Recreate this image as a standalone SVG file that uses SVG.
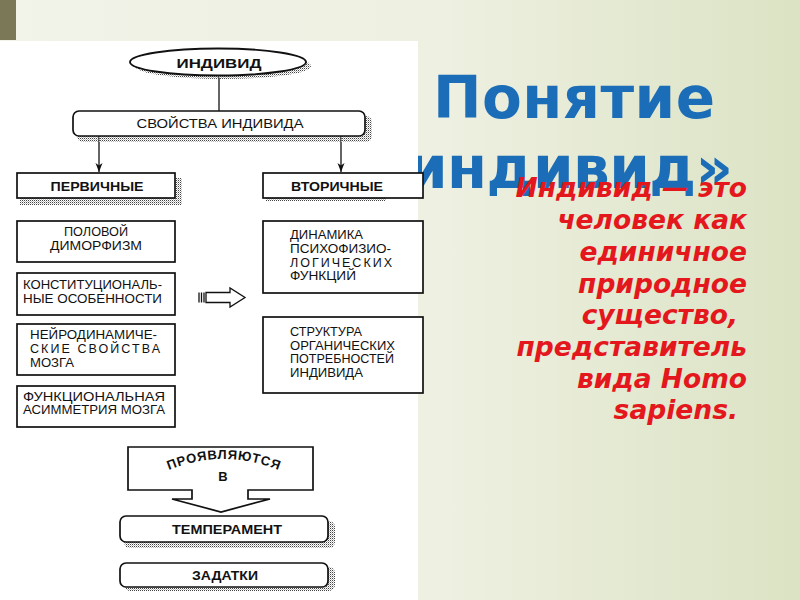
<svg xmlns="http://www.w3.org/2000/svg" width="800" height="600" viewBox="0 0 800 600">
<defs>
  <linearGradient id="bg" x1="0" y1="0" x2="1" y2="0">
    <stop offset="0" stop-color="#f2f3e9"/>
    <stop offset="0.55" stop-color="#eef0e1"/>
    <stop offset="1" stop-color="#dbe3c4"/>
  </linearGradient>
  <pattern id="dots" width="2" height="2" patternUnits="userSpaceOnUse">
    <rect width="1" height="1" fill="#444"/>
    <rect x="1" y="1" width="1" height="1" fill="#bbb"/>
  </pattern>
  <marker id="ah" markerWidth="10" markerHeight="10" refX="4" refY="9" orient="0" markerUnits="userSpaceOnUse">
    <path d="M0.5,0 L4,9 L7.5,0 L4,2.5 Z" fill="#111"/>
  </marker>
  <style>
    .box{fill:#fff;stroke:#111;stroke-width:1.7}
    .sh{fill:url(#dots)}
    .t{font-family:"Liberation Sans",Arial,sans-serif;font-size:12.5px;fill:#111}
    .b{font-family:"Liberation Sans",Arial,sans-serif;font-size:13px;font-weight:bold;fill:#111}
    .ln{stroke:#111;stroke-width:1.3;fill:none}
    .red{font-family:"DejaVu Sans",Verdana,sans-serif;font-weight:bold;font-style:italic;font-size:26.5px;fill:#e3171c;text-anchor:end}
    .blue{font-family:"DejaVu Sans",Verdana,sans-serif;font-weight:bold;font-size:58px;fill:#1b6db8}
  </style>
</defs>

<rect width="800" height="600" fill="url(#bg)"/>
<rect x="0" y="0" width="16" height="40" fill="#7b7858"/>

<g id="title">
  <text class="blue" x="433" y="118" textLength="282">Понятие</text>
  <text class="blue" x="733" y="188" text-anchor="end" textLength="326">индивид»</text>
</g>

<rect x="0" y="41" width="418" height="559" fill="#ffffff"/>

<g id="connectors">
  <line class="ln" x1="219" y1="77" x2="219" y2="111"/>
  <line class="ln" x1="99" y1="136" x2="99" y2="172" marker-end="url(#ah)"/>
  <line class="ln" x1="341" y1="136" x2="341" y2="172" marker-end="url(#ah)"/>
  <g id="blockArrow">
    <path d="M206,292.5 H230 V288 L245,297.5 L230,307 V302.5 H206 Z" fill="#fff" stroke="#111" stroke-width="1.3"/>
    <path d="M199,292.5 V302.5 M201.5,292.5 V302.5 M204,292.5 V302.5" stroke="#111" stroke-width="1.3"/>
  </g>
  <g id="downArrow">
    <path d="M128,447 H313 V490 H248 V499 H270 L221,512 L172,499 H192 V490 H128 Z" fill="#fff" stroke="#111" stroke-width="1.7"/>
    <path id="arc" d="M156,476 Q223,442 292,476" fill="none"/>
    <text class="b" font-size="12" letter-spacing="0.8"><textPath href="#arc" startOffset="50%" text-anchor="middle">ПРОЯВЛЯЮТСЯ</textPath></text>
    <text class="b" x="223" y="481" text-anchor="middle" font-size="12">В</text>
  </g>
</g>

<g id="n-individ">
  <ellipse class="sh" cx="223" cy="66" rx="88" ry="13"/>
  <ellipse cx="218" cy="62" rx="88" ry="13.5" fill="#fff" stroke="#111" stroke-width="1.9"/>
  <text class="b" x="219" y="67.5" text-anchor="middle" font-size="14.5" textLength="85" lengthAdjust="spacingAndGlyphs">ИНДИВИД</text>
</g>

<g id="n-svoistva">
  <rect class="sh" x="77" y="116" width="295" height="26" rx="6"/>
  <rect class="box" x="73" y="111" width="292" height="25" rx="6"/>
  <text class="t" x="220" y="128" text-anchor="middle" font-size="13.5" textLength="167" lengthAdjust="spacingAndGlyphs">СВОЙСТВА ИНДИВИДА</text>
</g>

<g id="n-pervichnye">
  <rect class="sh" x="20" y="178" width="162" height="27"/>
  <rect class="box" x="17" y="173" width="158" height="25"/>
  <text class="b" x="97" y="191" text-anchor="middle" textLength="93" lengthAdjust="spacingAndGlyphs">ПЕРВИЧНЫЕ</text>
</g>

<g id="n-vtorichnye">
  <rect class="sh" x="266" y="196" width="120" height="5"/>
  <rect class="box" x="263" y="173" width="160" height="25"/>
  <text class="b" x="337" y="191" text-anchor="middle" textLength="92" lengthAdjust="spacingAndGlyphs">ВТОРИЧНЫЕ</text>
</g>

<g id="n-polovoi">
  <rect class="box" x="17" y="221" width="158" height="41"/>
  <text class="t" x="96" y="236" text-anchor="middle" textLength="64" lengthAdjust="spacingAndGlyphs">ПОЛОВОЙ</text>
  <text class="t" x="96" y="250" text-anchor="middle" textLength="92" lengthAdjust="spacingAndGlyphs">ДИМОРФИЗМ</text>
</g>

<g id="n-konstit">
  <rect class="box" x="17" y="273" width="158" height="42"/>
  <text class="t" x="23" y="289" textLength="139" lengthAdjust="spacingAndGlyphs">КОНСТИТУЦИОНАЛЬ-</text>
  <text class="t" x="23" y="303" textLength="139" lengthAdjust="spacingAndGlyphs">НЫЕ ОСОБЕННОСТИ</text>
</g>

<g id="n-neirodin">
  <rect class="box" x="17" y="324" width="158" height="51"/>
  <text class="t" x="30" y="339" textLength="127" lengthAdjust="spacingAndGlyphs">НЕЙРОДИНАМИЧЕ-</text>
  <text class="t" x="30" y="353" textLength="130">СКИЕ  СВОЙСТВА</text>
  <text class="t" x="30" y="367" textLength="44" lengthAdjust="spacingAndGlyphs">МОЗГА</text>
</g>

<g id="n-funkc">
  <rect class="box" x="17" y="386" width="158" height="41"/>
  <text class="t" x="23" y="401" textLength="142" lengthAdjust="spacingAndGlyphs">ФУНКЦИОНАЛЬНАЯ</text>
  <text class="t" x="23" y="414" textLength="142" lengthAdjust="spacingAndGlyphs">АСИММЕТРИЯ МОЗГА</text>
</g>

<g id="n-dinamika">
  <rect class="box" x="263" y="221" width="160" height="72"/>
  <text class="t" x="290" y="239" textLength="73" lengthAdjust="spacingAndGlyphs">ДИНАМИКА</text>
  <text class="t" x="290" y="253" textLength="101" lengthAdjust="spacingAndGlyphs">ПСИХОФИЗИО-</text>
  <text class="t" x="290" y="267" textLength="102">ЛОГИЧЕСКИХ</text>
  <text class="t" x="290" y="280" textLength="66" lengthAdjust="spacingAndGlyphs">ФУНКЦИЙ</text>
</g>

<g id="n-struktura">
  <rect class="box" x="263" y="317" width="160" height="76"/>
  <text class="t" x="290" y="336" textLength="72" lengthAdjust="spacingAndGlyphs">СТРУКТУРА</text>
  <text class="t" x="290" y="350" textLength="105" lengthAdjust="spacingAndGlyphs">ОРГАНИЧЕСКИХ</text>
  <text class="t" x="290" y="363" textLength="104" lengthAdjust="spacingAndGlyphs">ПОТРЕБНОСТЕЙ</text>
  <text class="t" x="290" y="377" textLength="73" lengthAdjust="spacingAndGlyphs">ИНДИВИДА</text>
</g>

<g id="n-temperament">
  <rect class="sh" x="124" y="521" width="211" height="27" rx="6"/>
  <rect class="box" x="120" y="516" width="208" height="26" rx="6"/>
  <text class="b" x="227" y="533.5" text-anchor="middle" font-size="13.5" textLength="110" lengthAdjust="spacingAndGlyphs">ТЕМПЕРАМЕНТ</text>
</g>

<g id="n-zadatki">
  <rect class="sh" x="124" y="567" width="211" height="24" rx="6"/>
  <rect class="box" x="120" y="563" width="208" height="24" rx="6"/>
  <text class="b" x="225" y="579.5" text-anchor="middle" font-size="13.5" textLength="66" lengthAdjust="spacingAndGlyphs">ЗАДАТКИ</text>
</g>

<g id="definition">
  <text class="red" x="747" y="197">Индивид — это</text>
  <text class="red" x="747" y="229">человек как</text>
  <text class="red" x="747" y="261">единичное</text>
  <text class="red" x="747" y="293">природное</text>
  <text class="red" x="738" y="324">существо,</text>
  <text class="red" x="747" y="356">представитель</text>
  <text class="red" x="747" y="388">вида Homo</text>
  <text class="red" x="738" y="419">sapiens.</text>
</g>
</svg>
